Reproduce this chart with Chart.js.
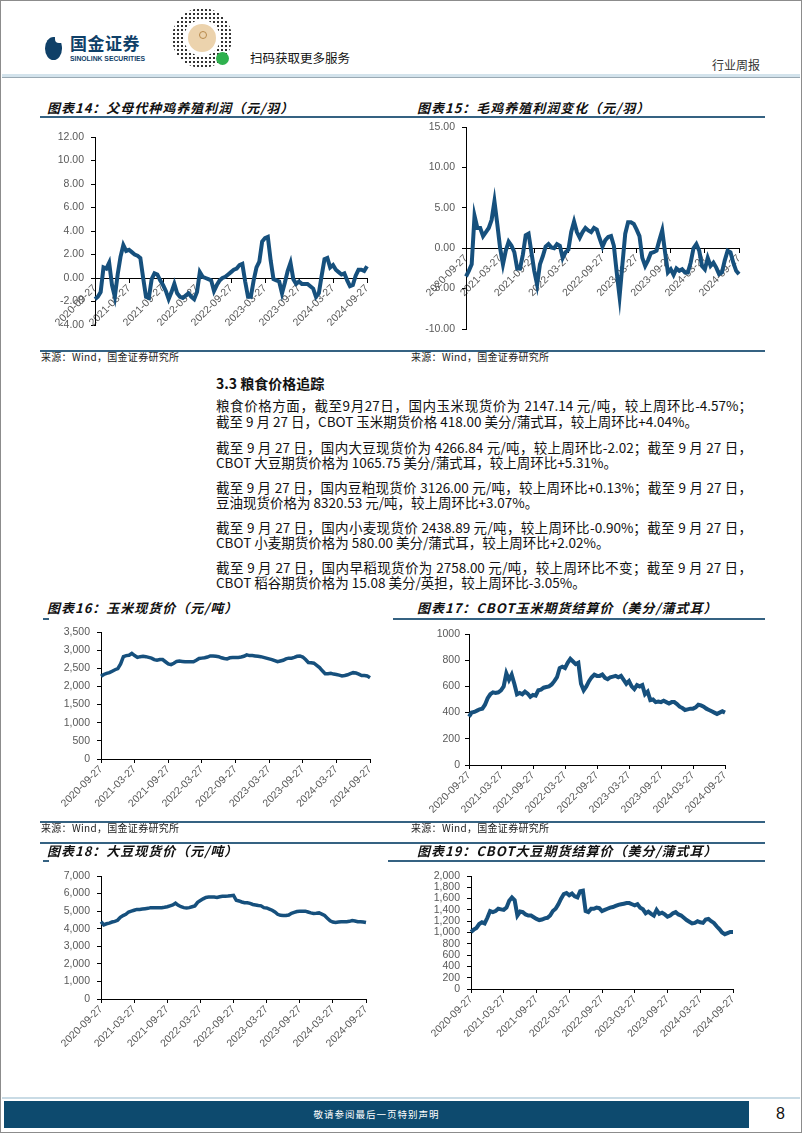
<!DOCTYPE html>
<html lang="zh-CN">
<head>
<meta charset="utf-8">
<title>粮食价格追踪</title>
<script src="https://cdn.jsdelivr.net/npm/chart.js@4.4.1/dist/chart.umd.min.js"></script>
<style>
  html, body { margin: 0; padding: 0; background: #fff; }
  #page { position: relative; width: 802px; height: 1133px; overflow: hidden; background: #fff;
          font-family: "Noto Sans CJK SC", sans-serif; color: #111; }
  #page::after { content: ""; position: absolute; left: 0; top: 0; right: 0; bottom: 0;
                 border: 1.5px solid #8c8c8c; pointer-events: none; }
  .a { position: absolute; white-space: nowrap; }
  .title { font: italic bold 13px/18px "Noto Sans CJK SC"; letter-spacing: 1px; color: #111; }
  .rule { position: absolute; height: 1.5px; background: #356282; }
  .src { font: 10px/12px "Noto Sans CJK SC"; letter-spacing: 0.3px; color: #222; }
  .txt { font: 13.5px/18px "Noto Sans CJK SC"; color: #111; }
  .just { width: 536px; text-align: justify; text-align-last: justify; }
  canvas { position: absolute; }
  .qr { position: absolute; left: 172px; top: 8px; width: 60px; height: 60px; border-radius: 50%;
        background-image: radial-gradient(circle, #333 0.8px, transparent 1.2px); background-size: 4px 4px; }
  .qr .ring { position: absolute; left: 12px; top: 12px; width: 36px; height: 36px; border-radius: 50%; background: #fff; }
  .qr .in { position: absolute; left: 16px; top: 16px; width: 28px; height: 28px; border-radius: 50%; background: #ecd3ad; }
  .qr .in2 { position: absolute; left: 11px; top: 7px; width: 6px; height: 6px; border-radius: 50%; border: 1px solid #b88a4c; }
  .qr .gr { position: absolute; left: 44px; top: 44px; width: 13px; height: 13px; border-radius: 50%; background: #2fb14e; }
</style>
</head>
<body>
<div id="page">
  <!-- header -->
  <div class="a" style="left:45px;top:37px;width:17px;height:23px;border-radius:50% 45% 50% 50%;background:#0f4068;"></div>
  <div class="a" style="left:55px;top:35px;width:7px;height:8px;background:#fff;border-radius:0 0 0 4px;"></div>
  <div class="a" style="left:70px;top:33px;font:bold 17px/20px 'Noto Sans CJK SC';color:#0f4068;letter-spacing:0.5px;">国金证券</div>
  <div class="a" style="left:70px;top:54px;font:bold 6.8px/9px 'Liberation Sans';color:#0f4068;">SINOLINK SECURITIES</div>
  <div class="qr"><div class="ring"></div><div class="in"><div class="in2"></div></div><div class="gr"></div></div>
  <div class="a" style="left:250px;top:49px;font:12.5px/18px 'Noto Sans CJK SC';color:#111;">扫码获取更多服务</div>
  <div class="a" style="left:712px;top:57px;font:12px/16px 'Noto Sans CJK SC';color:#333;">行业周报</div>
  <div class="a" style="left:2px;top:74px;width:798px;height:3px;background:#d3e3ec;"></div>
  <div class="a" style="left:2px;top:77px;width:798px;height:1px;background:#9aa9b3;"></div>

  <!-- charts 14 / 15 -->
  <div class="a title" style="left:47px;top:99px;">图表14：父母代种鸡养殖利润（元/羽）</div>
  <div class="a title" style="left:417px;top:99px;">图表15：毛鸡养殖利润变化（元/羽）</div>
  <div class="rule" style="left:40px;top:116px;width:725px;"></div>
  <canvas id="c14"></canvas>
  <canvas id="c15"></canvas>
  <div class="rule" style="left:40px;top:350px;width:725px;"></div>
  <div class="a src" style="left:41px;top:351px;">来源：Wind，国金证券研究所</div>
  <div class="a src" style="left:411px;top:351px;">来源：Wind，国金证券研究所</div>

  <!-- text -->
  <div class="a" style="left:216px;top:373px;font:bold 14px/20px 'Noto Sans CJK SC';">3.3 粮食价格追踪</div>
  <div class="a txt just" style="left:216px;top:396px;">粮食价格方面，截至9月27日，国内玉米现货价为 2147.14 元/吨，较上周环比-4.57%；</div>
  <div class="a txt" style="left:216px;top:412px;">截至 9 月 27 日，CBOT 玉米期货价格 418.00 美分/蒲式耳，较上周环比+4.04%。</div>
  <div class="a txt just" style="left:216px;top:438px;">截至 9 月 27 日，国内大豆现货价为 4266.84 元/吨，较上周环比-2.02；截至 9 月 27 日，</div>
  <div class="a txt" style="left:216px;top:453px;">CBOT 大豆期货价格为 1065.75 美分/蒲式耳，较上周环比+5.31%。</div>
  <div class="a txt just" style="left:216px;top:478px;">截至 9 月 27 日，国内豆粕现货价 3126.00 元/吨，较上周环比+0.13%；截至 9 月 27 日，</div>
  <div class="a txt" style="left:216px;top:493px;">豆油现货价格为 8320.53 元/吨，较上周环比+3.07%。</div>
  <div class="a txt just" style="left:216px;top:518px;">截至 9 月 27 日，国内小麦现货价 2438.89 元/吨，较上周环比-0.90%；截至 9 月 27 日，</div>
  <div class="a txt" style="left:216px;top:533px;">CBOT 小麦期货价格为 580.00 美分/蒲式耳，较上周环比+2.02%。</div>
  <div class="a txt just" style="left:216px;top:558px;">截至 9 月 27 日，国内早稻现货价为 2758.00 元/吨，较上周环比不变；截至 9 月 27 日，</div>
  <div class="a txt" style="left:216px;top:573px;">CBOT 稻谷期货价格为 15.08 美分/英担，较上周环比-3.05%。</div>

  <!-- charts 16 / 17 -->
  <div class="a title" style="left:47px;top:599px;">图表16：玉米现货价（元/吨）</div>
  <div class="a title" style="left:417px;top:599px;">图表17：CBOT玉米期货结算价（美分/蒲式耳）</div>
  <div class="rule" style="left:43px;top:618px;width:6px;"></div>
  <div class="rule" style="left:393px;top:618px;width:372px;"></div>
  <canvas id="c16"></canvas>
  <canvas id="c17"></canvas>
  <div class="rule" style="left:40px;top:821px;width:725px;"></div>
  <div class="a src" style="left:41px;top:822px;">来源：Wind，国金证券研究所</div>
  <div class="a src" style="left:411px;top:822px;">来源：Wind，国金证券研究所</div>

  <!-- charts 18 / 19 -->
  <div class="rule" style="left:40px;top:842px;width:725px;"></div>
  <div class="a title" style="left:47px;top:842px;">图表18：大豆现货价（元/吨）</div>
  <div class="a title" style="left:417px;top:842px;">图表19：CBOT大豆期货结算价（美分/蒲式耳）</div>
  <div class="rule" style="left:43px;top:860px;width:6px;"></div>
  <div class="rule" style="left:388px;top:860px;width:377px;"></div>
  <canvas id="c18"></canvas>
  <canvas id="c19"></canvas>

  <!-- footer -->
  <div class="a" style="left:2px;top:1097px;width:798px;height:2px;background:#c9dbe5;"></div>
  <div class="a" style="left:4px;top:1101px;width:745px;height:27px;background:#0d4a6e;"></div>
  <div class="a" style="left:4px;top:1106px;width:745px;text-align:center;font:9.5px/16px 'Noto Sans CJK SC';color:#fff;letter-spacing:1px;">敬请参阅最后一页特别声明</div>
  <div class="a" style="left:776px;top:1103px;font:16px/22px 'Liberation Sans';color:#111;">8</div>
</div>

<script>
// x axis: one point about every half month, tick label every 12 points
var tickDates = ['2020-09-27', '2021-03-27', '2021-09-27', '2022-03-27', '2022-09-27',
                 '2023-03-27', '2023-09-27', '2024-03-27', '2024-09-27'];
var step = 12;
var dateLabels = [];
for (var i = 0; i <= 96; i++) dateLabels.push(i % step === 0 ? tickDates[i / step] : '');

// 图表14 父母代种鸡养殖利润（元/羽）
var parentProfit = [-1.8,-1.6,-1.2,0.9,0.8,1.3,-0.6,-1.6,0.3,1.8,
  2.8,2.3,2.4,2.2,2.0,1.9,1.7,0.0,-1.6,-1.7,
  -0.1,0.4,0.3,-0.2,-0.6,-1.1,-1.8,-1.2,-0.5,-1.3,
  -1.6,-1.7,-1.5,-1.3,-1.6,-1.8,-1.2,0.5,0.1,0.0,
  -0.1,-0.2,-1.1,-0.6,-0.2,0.0,0.1,0.3,0.5,0.7,
  0.8,1.1,1.2,-0.3,-1.6,-1.6,-0.2,0.9,1.4,3.1,
  3.4,3.5,1.5,-0.1,-0.2,-0.3,-1.3,-0.4,0.6,1.3,
  -0.1,-0.5,-0.3,-0.5,-0.5,-0.5,-0.7,-0.9,-1.6,-1.3,
  0.2,1.6,1.7,0.9,1.1,0.7,0.5,0.3,0.4,-0.2,
  -0.7,-0.6,0.2,0.7,0.7,0.6,1.0];

// 图表15 毛鸡养殖利润变化（元/羽）
var broilerProfit = [-3.5,-2.8,-2.0,4.0,2.5,2.5,1.5,2.0,2.5,3.5,
  5.8,3.0,0.0,-2.0,-0.3,0.8,0.3,-0.5,-2.5,-2.5,
  -0.8,1.6,1.8,-0.5,-2.8,-4.5,-2.0,-1.0,0.2,0.5,
  0.1,0.0,0.5,0.3,-1.2,-0.5,-0.2,2.0,3.3,2.0,
  1.3,2.0,2.5,2.2,2.0,2.5,2.3,1.2,0.2,1.0,
  1.4,1.5,0.3,-3.0,-6.0,-2.0,1.8,3.2,3.2,3.0,
  2.3,1.5,-1.2,-2.2,-1.5,-0.6,-0.5,-0.3,1.0,2.2,
  -0.5,-3.0,-2.6,-3.3,-2.5,-2.8,-2.6,-3.0,-3.0,-1.8,
  0.0,0.5,-0.3,-2.2,-2.6,-1.2,-2.2,-1.8,-2.4,-3.2,
  -3.0,-1.5,-0.3,-0.5,-1.8,-2.8,-3.2];

// 图表16 玉米现货价（元/吨）
var cornSpot = [2280,2330,2360,2380,2420,2460,2490,2620,2820,2850,
  2860,2910,2850,2800,2820,2830,2820,2800,2780,2740,
  2720,2740,2740,2680,2620,2600,2640,2690,2700,2690,
  2680,2680,2680,2680,2720,2770,2780,2790,2810,2840,
  2840,2830,2820,2790,2770,2760,2790,2800,2800,2800,
  2810,2830,2870,2850,2850,2840,2830,2820,2800,2780,
  2760,2740,2710,2680,2700,2720,2760,2780,2780,2800,
  2830,2840,2810,2740,2660,2650,2640,2580,2520,2430,
  2350,2350,2360,2340,2330,2310,2290,2300,2320,2350,
  2380,2370,2340,2300,2300,2290,2240];

// 图表17 CBOT玉米期货结算价（美分/蒲式耳）
var cbotCorn = [370,400,405,415,425,430,460,510,540,555,
  550,555,570,600,700,650,690,620,540,550,
  540,560,545,520,535,530,570,575,590,595,
  600,615,640,670,740,750,740,780,810,790,
  770,780,620,570,600,640,670,690,680,680,
  690,665,655,670,675,680,670,680,650,620,
  640,600,580,610,600,610,540,560,495,500,
  480,485,480,490,480,470,480,480,465,445,
  435,420,425,430,430,440,460,455,445,430,
  420,410,400,390,400,410,400];

// 图表18 大豆现货价（元/吨）
var soySpot = [4400,4220,4280,4320,4380,4420,4480,4650,4750,4820,
  4950,5000,5050,5100,5100,5120,5140,5160,5200,5200,
  5190,5200,5200,5220,5250,5300,5350,5450,5330,5250,
  5200,5180,5200,5250,5300,5500,5600,5700,5780,5800,
  5800,5800,5780,5820,5850,5850,5860,5880,5900,5620,
  5580,5520,5480,5480,5440,5380,5350,5320,5300,5200,
  5180,5120,5050,4950,4820,4760,4750,4750,4780,4880,
  4930,4980,5000,5000,5000,4950,4900,4870,4880,4900,
  4830,4750,4600,4450,4380,4350,4380,4400,4400,4400,
  4420,4460,4440,4400,4400,4380,4350];

// 图表19 CBOT大豆期货结算价（美分/蒲式耳）
var cbotSoy = [1010,1050,1080,1150,1180,1160,1260,1380,1360,1380,
  1420,1410,1400,1440,1560,1620,1570,1300,1370,1360,
  1320,1300,1300,1270,1240,1220,1230,1250,1260,1300,
  1380,1420,1500,1600,1680,1700,1660,1690,1640,1620,
  1730,1740,1380,1360,1420,1420,1440,1430,1380,1400,
  1420,1440,1450,1470,1490,1500,1510,1520,1520,1500,
  1480,1500,1440,1410,1340,1370,1330,1300,1400,1330,
  1350,1320,1280,1300,1340,1360,1320,1300,1260,1220,
  1190,1160,1170,1200,1180,1170,1230,1240,1200,1170,
  1110,1060,1000,970,990,1010,1010];

var lineColor = '#16507d';
var tickGray = '#595959';
var tickFont = { family: 'Liberation Sans, Arial, sans-serif', size: 10.5 };

var fmt2 = function (v) { return v.toFixed(2); };
var fmtComma = function (v) { return v.toLocaleString('en-US'); };
var fmtPlain = function (v) { return String(v); };

// box = plot area in page pixels
function drawChart(id, box, values, cfg) {
  var yw = 52, pt = 10, pr = 14, pb = 4;
  var xh = cfg.zeroAxis ? 0 : 60;
  var w = Math.round(yw + box.r - box.l + pr);
  var h = Math.round(pt + box.b - box.t + xh + pb);
  var cv = document.getElementById(id);
  cv.width = w; cv.height = h;
  cv.style.left = (box.l - yw) + 'px';
  cv.style.top = (box.t - pt) + 'px';

  new Chart(cv, {
    type: 'line',
    data: {
      labels: dateLabels,
      datasets: [{ data: values, borderColor: lineColor, borderWidth: cfg.lw,
                   pointRadius: 0, fill: false, tension: 0 }]
    },
    options: {
      responsive: false,
      animation: false,
      devicePixelRatio: 1,
      layout: { padding: { left: 0, top: pt, right: pr, bottom: pb } },
      plugins: { legend: { display: false }, tooltip: { enabled: false } },
      scales: {
        x: {
          type: 'category',
          position: cfg.zeroAxis ? { y: 0 } : 'bottom',
          grid: {
            drawOnChartArea: false, tickLength: 4,
            tickColor: function (c) { return c.index % step === 0 ? '#000' : 'rgba(0,0,0,0)'; }
          },
          border: { color: '#000', width: 1 },
          ticks: { autoSkip: false, minRotation: 45, maxRotation: 45, padding: 0,
                   color: tickGray, font: tickFont },
          afterFit: function (s) { s.height = xh; s.paddingLeft = 0; s.paddingRight = 0; }
        },
        y: {
          min: cfg.min, max: cfg.max,
          grid: { drawOnChartArea: false, tickLength: 4, color: '#000' },
          border: { color: '#000', width: 1 },
          ticks: { stepSize: cfg.step, autoSkip: false, padding: cfg.pad || 7,
                   color: tickGray, font: tickFont, callback: cfg.fmt },
          afterFit: function (s) { s.width = yw; s.paddingTop = 0; s.paddingBottom = 0; }
        }
      }
    }
  });
}

drawChart('c14', { l: 95, t: 136.7, r: 366.7, b: 325 }, parentProfit,
  { min: -4, max: 12, step: 2, fmt: fmt2, zeroAxis: true, lw: 4 });
drawChart('c15', { l: 466, t: 127.3, r: 739, b: 329.3 }, broilerProfit,
  { min: -10, max: 15, step: 5, fmt: fmt2, zeroAxis: true, lw: 4 });
drawChart('c16', { l: 101, t: 632.3, r: 370, b: 759.3 }, cornSpot,
  { min: 0, max: 3500, step: 500, fmt: fmtComma, lw: 3.5 });
drawChart('c17', { l: 469.3, t: 634, r: 725, b: 765 }, cbotCorn,
  { min: 0, max: 1000, step: 200, fmt: fmtPlain, pad: 5, lw: 4 });
drawChart('c18', { l: 101, t: 875.7, r: 366, b: 998.3 }, soySpot,
  { min: 0, max: 7000, step: 1000, fmt: fmtComma, lw: 3.5 });
drawChart('c19', { l: 470.7, t: 875.7, r: 732.7, b: 989 }, cbotSoy,
  { min: 0, max: 2000, step: 200, fmt: fmtComma, lw: 4 });
</script>
</body>
</html>
